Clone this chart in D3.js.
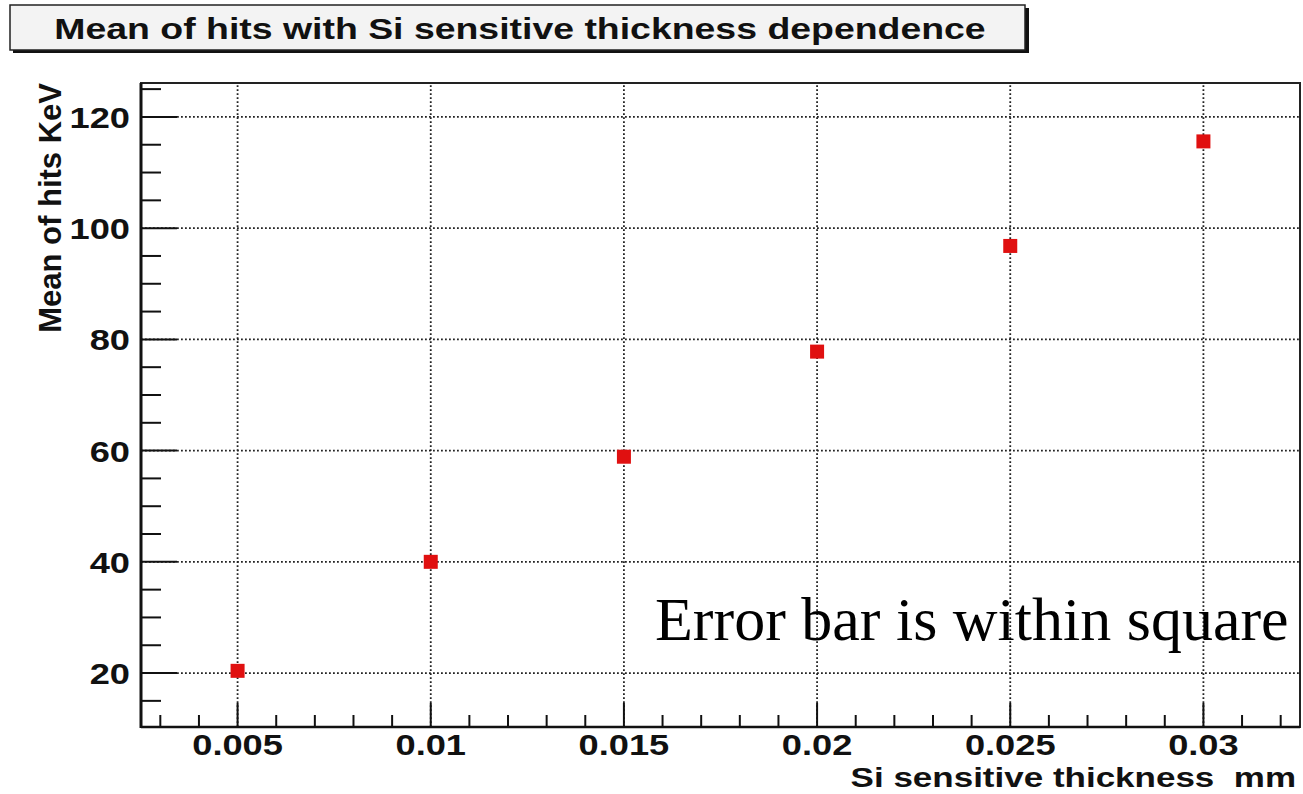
<!DOCTYPE html>
<html>
<head>
<meta charset="utf-8">
<script src="https://cdn.jsdelivr.net/npm/d3@7"></script>
<style>
  body { margin: 0; background: #fff; }
  svg text { font-family: "Liberation Sans", Arial, sans-serif; font-weight: bold; fill: #111; }
</style>
</head>
<body>
<div id="chart"></div>
<script>
// data
const thickness = [0.005, 0.01, 0.015, 0.02, 0.025, 0.03];
const meanHits = [20.4, 40.0, 58.9, 77.8, 96.8, 115.6];
const xTicks = [0.005, 0.01, 0.015, 0.02, 0.025, 0.03];
const xTickLabels = ["0.005", "0.01", "0.015", "0.02", "0.025", "0.03"];
const yTicks = [20, 40, 60, 80, 100, 120];
const titleText = "Mean of hits with Si sensitive thickness dependence";
const xTitle = "Si sensitive thickness  mm";
const yTitle = "Mean of hits KeV";
const note = "Error bar is within square";

const W = 1303, H = 794;
const MARGIN = { LEFT: 141, RIGHT: 3, TOP: 83, BOTTOM: 67 };

const svg = d3.select("#chart").append("svg")
    .attr("width", W)
    .attr("height", H);

const x = d3.scaleLinear()
    .domain([0.0025, 0.0325])
    .range([MARGIN.LEFT, W - MARGIN.RIGHT]);

const y = d3.scaleLinear()
    .domain([10.3, 126.1])
    .range([H - MARGIN.BOTTOM, MARGIN.TOP]);

const x0 = x.range()[0], x1 = x.range()[1];
const y0 = y.range()[0], y1 = y.range()[1];

// plot frame
svg.append("rect")
    .attr("x", x0).attr("y", y1)
    .attr("width", x1 - x0).attr("height", y0 - y1)
    .attr("fill", "#fff")
    .attr("stroke", "#222")
    .attr("stroke-width", 2);

// dotted grid
svg.append("g").selectAll("line")
    .data(xTicks)
    .join("line")
    .attr("x1", d => x(d)).attr("x2", d => x(d))
    .attr("y1", y0).attr("y2", y1)
    .attr("stroke", "#222")
    .attr("stroke-width", 1.8)
    .attr("stroke-dasharray", "1.8,2.2");

svg.append("g").selectAll("line")
    .data(yTicks)
    .join("line")
    .attr("x1", x0).attr("x2", x1)
    .attr("y1", d => y(d)).attr("y2", d => y(d))
    .attr("stroke", "#222")
    .attr("stroke-width", 1.8)
    .attr("stroke-dasharray", "1.8,2.2");

// axes with inward ticks
const xMinor = d3.range(3, 33).map(i => i / 1000).filter(v => !xTicks.some(t => Math.abs(t - v) < 1e-9));
const yMinor = d3.range(15, 126, 5).filter(v => !yTicks.includes(v));

svg.append("g").selectAll("line")
    .data(xTicks)
    .join("line")
    .attr("x1", d => x(d)).attr("x2", d => x(d))
    .attr("y1", y0).attr("y2", y0 - 24)
    .attr("stroke", "#111").attr("stroke-width", 2);

svg.append("g").selectAll("line")
    .data(xMinor)
    .join("line")
    .attr("x1", d => x(d)).attr("x2", d => x(d))
    .attr("y1", y0).attr("y2", y0 - 12)
    .attr("stroke", "#111").attr("stroke-width", 2);

svg.append("g").selectAll("line")
    .data(yTicks)
    .join("line")
    .attr("x1", x0).attr("x2", x0 + 36)
    .attr("y1", d => y(d)).attr("y2", d => y(d))
    .attr("stroke", "#111").attr("stroke-width", 2);

svg.append("g").selectAll("line")
    .data(yMinor)
    .join("line")
    .attr("x1", x0).attr("x2", x0 + 20)
    .attr("y1", d => y(d)).attr("y2", d => y(d))
    .attr("stroke", "#111").attr("stroke-width", 2);

// heavier axis lines
svg.append("line")
    .attr("x1", x0).attr("x2", x0).attr("y1", y0 + 1).attr("y2", y1)
    .attr("stroke", "#111").attr("stroke-width", 3);
svg.append("line")
    .attr("x1", x0).attr("x2", x1).attr("y1", y0).attr("y2", y0)
    .attr("stroke", "#111").attr("stroke-width", 2.5);

// tick labels (the picture is stretched sideways, so text is scaled in x)
svg.append("g").selectAll("text")
    .data(xTicks)
    .join("text")
    .attr("transform", d => `translate(${x(d)},${y0 + 28}) scale(1.25,1)`)
    .attr("text-anchor", "middle")
    .style("font-size", "29px")
    .text((d, i) => xTickLabels[i]);

svg.append("g").selectAll("text")
    .data(yTicks)
    .join("text")
    .attr("transform", d => `translate(${x0 - 11},${y(d) + 11}) scale(1.25,1)`)
    .attr("text-anchor", "end")
    .style("font-size", "29px")
    .text(d => d);

// axis titles
svg.append("text")
    .attr("transform", `translate(${x1 - 4},${H - 7}) scale(1.25,1)`)
    .attr("text-anchor", "end")
    .style("font-size", "28px")
    .style("white-space", "pre")
    .text(xTitle);

svg.append("text")
    .attr("transform", `translate(${61},${y1}) rotate(-90)`)
    .attr("text-anchor", "end")
    .style("font-size", "31px")
    .text(yTitle);

// markers
const MS = 14;
svg.append("g").selectAll("rect")
    .data(thickness.map((t, i) => ({ t, v: meanHits[i] })))
    .join("rect")
    .attr("x", d => x(d.t) - MS / 2)
    .attr("y", d => y(d.v) - MS / 2)
    .attr("width", MS).attr("height", MS)
    .attr("fill", "#e01010");

// title box with shadow
svg.append("rect")
    .attr("x", 13).attr("y", 8)
    .attr("width", 1016).attr("height", 45)
    .attr("fill", "#111");
svg.append("rect")
    .attr("x", 10).attr("y", 5)
    .attr("width", 1015).attr("height", 45)
    .attr("fill", "#f3f3f3")
    .attr("stroke", "#222")
    .attr("stroke-width", 1.5);
svg.append("text")
    .attr("transform", `translate(${520},${39}) scale(1.29,1)`)
    .attr("text-anchor", "middle")
    .style("font-size", "29px")
    .text(titleText);

// note
svg.append("text")
    .attr("x", 655)
    .attr("y", 640)
    .style("font-family", "'Liberation Serif', 'Times New Roman', serif")
    .style("font-weight", "normal")
    .style("font-size", "62px")
    .style("fill", "#000")
    .text(note);
</script>
</body>
</html>
